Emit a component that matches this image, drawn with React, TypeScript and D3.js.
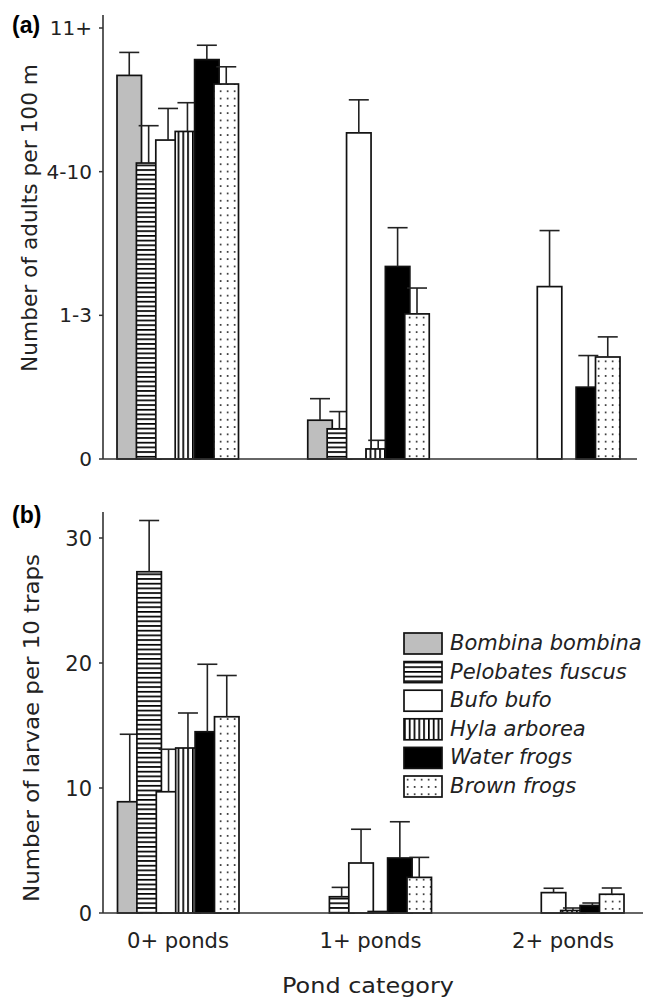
import React from 'react';
import * as d3 from 'd3';

const categories = ['0+ ponds', '1+ ponds', '2+ ponds'];
const species = ['Bombina bombina', 'Pelobates fuscus', 'Bufo bufo', 'Hyla arborea', 'Water frogs', 'Brown frogs'];
const fills = ['#bebebe', 'url(#hstripe)', '#ffffff', 'url(#vstripe)', '#000000', 'url(#dots)'];

// (a) adults, plotted on the class scale 0 / 1-3 / 4-10 / 11+
const adultTicks = ['0', '1-3', '4-10', '11+'];
const adultMean = [
  [2.67, 0.27, 0],
  [2.06, 0.21, 0],
  [2.22, 2.27, 1.2],
  [2.28, 0.07, 0],
  [2.78, 1.34, 0.5],
  [2.61, 1.01, 0.71],
];
const adultErr = [
  [0.16, 0.15, 0],
  [0.26, 0.12, 0],
  [0.22, 0.23, 0.39],
  [0.2, 0.06, 0],
  [0.1, 0.27, 0.22],
  [0.12, 0.18, 0.14],
];

// (b) larvae per 10 traps
const larvaeTicks = [0, 10, 20, 30];
const larvaeMean = [
  [8.9, 0, 0],
  [27.3, 1.3, 0],
  [9.7, 4.0, 1.63],
  [13.2, 0.12, 0.2],
  [14.5, 4.4, 0.6],
  [15.7, 2.85, 1.5],
];
const larvaeErr = [
  [5.4, 0, 0],
  [4.1, 0.75, 0],
  [3.4, 2.7, 0.35],
  [2.8, 0, 0.2],
  [5.4, 2.9, 0.2],
  [3.3, 1.6, 0.5],
];

const font = 'DejaVu Sans, Verdana, sans-serif';
const barW = 24.5;
const capW = 20;

function Bars({ x, y, sx, mean, err }) {
  const items = [];
  categories.forEach((c, ci) => {
    species.forEach((s, si) => {
      const v = mean[si][ci];
      const e = err[si][ci];
      const x0 = x(c) + sx(s);
      const cx = x0 + barW / 2;
      items.push(
        <g key={c + s}>
          {v > 0 && (
            <rect x={x0} y={y(v)} width={barW} height={y(0) - y(v)}
              fill={fills[si]} stroke="#111" strokeWidth={1.7} />
          )}
          {e > 0 && (
            <g stroke="#222" strokeWidth={1.6}>
              <line x1={cx} x2={cx} y1={y(v)} y2={y(v + e)} />
              <line x1={cx - capW / 2} x2={cx + capW / 2} y1={y(v + e)} y2={y(v + e)} />
            </g>
          )}
        </g>
      );
    });
  });
  return <g>{items}</g>;
}

export default function App() {
  const sx = d3.scaleBand().domain(species).range([-60.5, -60.5 + 6 * 19.4]);

  // panel (a)
  const xA = d3.scalePoint().domain(categories).range([177.5, 559]);
  const yA = d3.scaleLinear().domain([0, 3]).range([459, 28]);
  // panel (b)
  const xB = d3.scalePoint().domain(categories).range([178, 563]);
  const yB = d3.scaleLinear().domain([0, 30]).range([913, 538]);

  const axisX = 103;

  return (
    <svg width={657} height={999} style={{ position: 'absolute', left: 0, top: 0, background: '#fff' }}
      fontFamily={font}>
      <defs>
        <pattern id="hstripe" patternUnits="userSpaceOnUse" width={8} height={4.7}>
          <rect width={8} height={4.7} fill="#fff" />
          <rect y={0} width={8} height={1.7} fill="#000" />
        </pattern>
        <pattern id="vstripe" patternUnits="userSpaceOnUse" width={4.8} height={8}>
          <rect width={4.8} height={8} fill="#fff" />
          <rect x={0} width={1.7} height={8} fill="#000" />
        </pattern>
        <pattern id="dots" patternUnits="userSpaceOnUse" width={7} height={7.3}>
          <rect width={7} height={7.3} fill="#fff" />
          <rect x={2.8} y={2.8} width={1.7} height={1.7} fill="#333" />
        </pattern>
      </defs>

      {/* panel (a) */}
      <text x={12} y={33} fontSize={23} fontWeight="bold" fontFamily="Liberation Sans, Arial, sans-serif">(a)</text>
      <Bars x={xA} y={yA} sx={sx} mean={adultMean} err={adultErr} />
      <line x1={axisX} x2={axisX} y1={15} y2={yA(0)} stroke="#333" strokeWidth={1.6} />
      <line x1={axisX} x2={637} y1={yA(0)} y2={yA(0)} stroke="#333" strokeWidth={1.6} />
      {adultTicks.map((t, i) => (
        <g key={t}>
          <line x1={axisX - 4} x2={axisX} y1={yA(i)} y2={yA(i)} stroke="#333" strokeWidth={1.5} />
          <text x={92} y={yA(i) + 7} fontSize={20} textAnchor="end" fill="#222">{t}</text>
        </g>
      ))}
      <text transform={`translate(37,${218}) rotate(-90)`} fontSize={22} textAnchor="middle" fill="#222"
        textLength={308} lengthAdjust="spacingAndGlyphs">Number of adults per 100 m</text>

      {/* panel (b) */}
      <text x={12} y={523} fontSize={23} fontWeight="bold" fontFamily="Liberation Sans, Arial, sans-serif">(b)</text>
      <Bars x={xB} y={yB} sx={sx} mean={larvaeMean} err={larvaeErr} />
      <line x1={axisX} x2={axisX} y1={512} y2={yB(0)} stroke="#333" strokeWidth={1.6} />
      <line x1={axisX} x2={643} y1={yB(0)} y2={yB(0)} stroke="#333" strokeWidth={1.6} />
      {larvaeTicks.map((t) => (
        <g key={t}>
          <line x1={axisX - 4} x2={axisX} y1={yB(t)} y2={yB(t)} stroke="#333" strokeWidth={1.5} />
          <text x={92} y={yB(t) + 7.5} fontSize={21} textAnchor="end" fill="#222">{t}</text>
        </g>
      ))}
      <text transform={`translate(39,${728}) rotate(-90)`} fontSize={22} textAnchor="middle" fill="#222"
        textLength={348} lengthAdjust="spacingAndGlyphs">Number of larvae per 10 traps</text>
      {categories.map((c) => (
        <text key={c} x={xB(c)} y={948} fontSize={21} textAnchor="middle" fill="#222"
          textLength={102} lengthAdjust="spacingAndGlyphs">{c}</text>
      ))}
      <text x={368} y={993} fontSize={22} textAnchor="middle" fill="#222"
        textLength={172} lengthAdjust="spacingAndGlyphs">Pond category</text>

      {/* legend */}
      {species.map((s, i) => (
        <g key={s} transform={`translate(404,${633 + i * 28.6})`}>
          <rect width={38} height={21} fill={fills[i]} stroke="#111" strokeWidth={1.7} />
          <text x={46} y={17} fontSize={21} fontStyle="italic" fill="#222">{s}</text>
        </g>
      ))}
    </svg>
  );
}
